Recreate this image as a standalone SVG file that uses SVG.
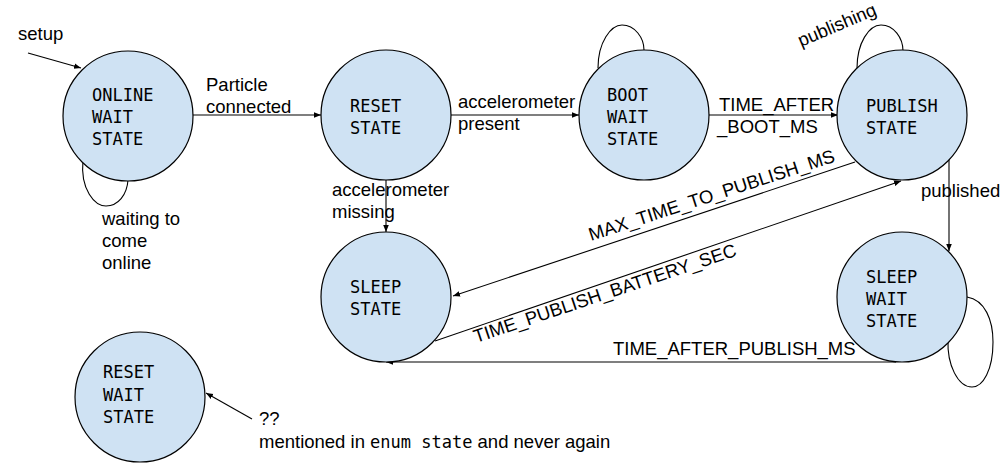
<svg xmlns="http://www.w3.org/2000/svg" width="1007" height="472" viewBox="0 0 1007 472">
<defs>
<marker id="ah" viewBox="0 0 10 10" refX="10" refY="5" markerWidth="7" markerHeight="7" markerUnits="userSpaceOnUse" orient="auto">
<path d="M0,1 L10,5 L0,9 Z" fill="#000"/>
</marker>
<style>
.st{fill:#cfe2f3;stroke:#000;stroke-width:1.2}
.nt{font-family:"DejaVu Sans Mono","Liberation Mono",monospace;font-size:17px;fill:#000}
.lb{font-family:"Liberation Sans",Arial,sans-serif;font-size:18.5px;fill:#000}
.mono{font-family:"DejaVu Sans Mono","Liberation Mono",monospace;font-size:17px}
.ln{fill:none;stroke:#000;stroke-width:1.1}
.ar{marker-end:url(#ah)}
</style>
</defs>
<rect width="1007" height="472" fill="#fff"/>
<g id="connectors">
<path class="ln ar" d="M28,53 L81,68"/>
<path class="ln ar" d="M193,115 L321,115"/>
<path class="ln ar" d="M451,115 L579,115"/>
<path class="ln ar" d="M709,115 L838,115"/>
<path class="ln ar" d="M386,180 L386,232"/>
<path class="ln ar" d="M949,159 L949,251"/>
<path class="ln ar" d="M855,162 L453,296"/>
<path class="ln ar" d="M435,341 L901,181"/>
<path class="ln ar" d="M896,362 L386,362"/>
<path class="ln ar" d="M252,419 L206,393"/>
<path class="ln" d="M83,160 C80,190 95,206 106,206 C118,206 127,195 128,180"/>
<path class="ln" d="M598,68 C598,42 611,25 622,25 C635,25 644,38 644,50"/>
<path class="ln" d="M857,68 C857,43 869,25 881,25 C894,25 903,38 903,51"/>
<path class="ln" d="M967,297 C985,300 993,320 993,342 C993,370 983,387 972,387 C958,387 947,365 948,340"/>
</g>
<g id="labels">
<text class="lb" x="18" y="40">setup</text>
<text class="lb" x="206" y="91">Particle</text>
<text class="lb" x="206" y="113">connected</text>
<text class="lb" x="458" y="108">accelerometer</text>
<text class="lb" x="458" y="130">present</text>
<text class="lb" x="332" y="196">accelerometer</text>
<text class="lb" x="332" y="218">missing</text>
<text class="lb" x="719" y="111">TIME_AFTER</text>
<text class="lb" x="717" y="133">_BOOT_MS</text>
<text class="lb" transform="translate(801,47) rotate(-23)">publishing</text>
<text class="lb" x="921" y="197">published</text>
<text class="lb" x="102" y="225">waiting to</text>
<text class="lb" x="102" y="247">come</text>
<text class="lb" x="102" y="269">online</text>
<text class="lb" transform="translate(591,241) rotate(-18)">MAX_TIME_TO_PUBLISH_MS</text>
<text class="lb" transform="translate(476,343) rotate(-18.5)">TIME_PUBLISH_BATTERY_SEC</text>
<text class="lb" x="613" y="355">TIME_AFTER_PUBLISH_MS</text>
<text class="lb" x="259" y="425">??</text>
<text class="lb" x="259" y="448">mentioned in <tspan class="mono">enum state</tspan> and never again</text>
</g>
<g id="online-wait-state">
<circle class="st" cx="128" cy="116" r="65"/>
<text class="nt" x="92" y="101">ONLINE</text>
<text class="nt" x="92" y="123">WAIT</text>
<text class="nt" x="92" y="145">STATE</text>
</g>
<g id="reset-state">
<circle class="st" cx="386" cy="115" r="65"/>
<text class="nt" x="350" y="112">RESET</text>
<text class="nt" x="350" y="134">STATE</text>
</g>
<g id="boot-wait-state">
<circle class="st" cx="644" cy="115" r="65"/>
<text class="nt" x="607" y="101">BOOT</text>
<text class="nt" x="607" y="123">WAIT</text>
<text class="nt" x="607" y="145">STATE</text>
</g>
<g id="publish-state">
<circle class="st" cx="902" cy="115" r="65"/>
<text class="nt" x="866" y="112">PUBLISH</text>
<text class="nt" x="866" y="134">STATE</text>
</g>
<g id="sleep-state">
<circle class="st" cx="386" cy="297" r="65"/>
<text class="nt" x="350" y="293">SLEEP</text>
<text class="nt" x="350" y="315">STATE</text>
</g>
<g id="sleep-wait-state">
<circle class="st" cx="902" cy="297" r="65"/>
<text class="nt" x="866" y="283">SLEEP</text>
<text class="nt" x="866" y="305">WAIT</text>
<text class="nt" x="866" y="327">STATE</text>
</g>
<g id="reset-wait-state">
<circle class="st" cx="140" cy="397" r="65"/>
<text class="nt" x="103" y="378">RESET</text>
<text class="nt" x="103" y="401">WAIT</text>
<text class="nt" x="103" y="423">STATE</text>
</g>
</svg>
